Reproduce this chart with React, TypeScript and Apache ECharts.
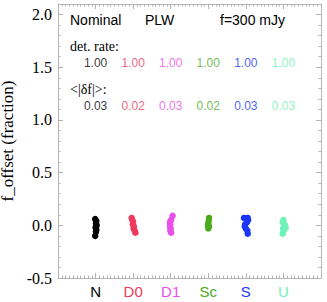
import React, { useEffect, useRef } from "react";
import * as echarts from "echarts";

const categories = ["N", "D0", "D1", "Sc", "S", "U"];
const colors = ["#000000", "#ee3b5e", "#e84fe8", "#4caa1e", "#1a35f5", "#6ff2b6"];
const detRate = [1.0, 1.0, 1.0, 1.0, 1.0, 1.0];
const meanAbsOffset = [0.03, 0.02, 0.03, 0.02, 0.03, 0.03];
const yTicks = [-0.5, 0, 0.5, 1.0, 1.5, 2.0];

const pointsN = [[0.99, 0.06], [1.02, 0.04], [1.01, 0.02], [1.03, 0.0], [1.0, -0.02], [1.02, -0.04], [1.01, -0.06], [0.99, -0.1]];
const pointsD0 = [[1.96, 0.07], [1.98, 0.05], [2.0, 0.03], [1.99, 0.01], [2.02, -0.01], [2.01, -0.03], [2.04, -0.05], [2.06, -0.07]];
const pointsD1 = [[3.05, 0.09], [3.01, 0.05], [2.98, 0.03], [2.99, 0.01], [2.98, -0.01], [3.0, -0.03], [2.99, -0.05], [3.01, -0.07]];
const pointsSc = [[4.02, 0.07], [4.01, 0.04], [4.0, 0.02], [3.99, 0.0], [4.02, -0.01], [4.0, -0.03]];
const pointsS = [[4.95, 0.07], [5.05, 0.07], [5.06, 0.05], [5.03, 0.03], [4.98, 0.01], [4.97, -0.01], [5.0, -0.03], [5.04, -0.05], [5.05, -0.08]];
const pointsU = [[6.0, 0.05], [5.98, 0.03], [6.03, 0.01], [6.06, -0.02], [5.99, -0.03], [6.01, -0.05], [5.98, -0.08]];
const allPoints = [pointsN, pointsD0, pointsD1, pointsSc, pointsS, pointsU];

const SERIF = "'Liberation Serif', 'DejaVu Serif', serif";
const SANS = "'Liberation Sans', Arial, sans-serif";
const AXIS_COLOR = "#b4b4b4";

export default function App() {
  const ref = useRef<HTMLDivElement>(null);
  useEffect(() => {
    if (!ref.current) return;
    const chart = echarts.init(ref.current, undefined, { renderer: "svg" });
    const rich: Record<string, any> = {};
    categories.forEach((c, i) => {
      rich["c" + i] = { color: colors[i], fontFamily: SANS, fontSize: 15 };
    });
    const commonX = {
      type: "value",
      min: 0,
      max: 7,
      interval: 1,
      axisLine: { show: true, onZero: false, lineStyle: { color: AXIS_COLOR, width: 1 } },
      axisTick: { show: true, inside: true, length: 5, lineStyle: { color: AXIS_COLOR } },
      minorTick: { show: true, splitNumber: 10, length: 2.5, lineStyle: { color: AXIS_COLOR } },
      splitLine: { show: false },
    };
    const commonY = {
      type: "value",
      min: -0.5,
      max: 2.1,
      interval: 0.5,
      axisLine: { show: true, onZero: false, lineStyle: { color: AXIS_COLOR, width: 1 } },
      axisTick: { show: true, inside: true, length: 5, lineStyle: { color: AXIS_COLOR } },
      minorTick: { show: true, splitNumber: 5, length: 2.5, lineStyle: { color: AXIS_COLOR } },
      splitLine: { show: false },
    };
    const textSeries = (vals: number[], y: number, digits: number) => ({
      type: "scatter",
      silent: true,
      symbolSize: 0,
      data: vals.map((v, i) => ({
        value: [i + 1, y],
        label: {
          show: true,
          position: "inside",
          formatter: v.toFixed(digits),
          color: colors[i],
          fontFamily: SANS,
          fontSize: 12,
        },
      })),
    });
    const option: any = {
      animation: false,
      grid: { left: 58, right: 6, top: 4, bottom: 24, outerBoundsMode: "none", containLabel: false },
      xAxis: [
        {
          ...commonX,
          position: "bottom",
          axisLabel: {
            show: true,
            margin: 6,
            formatter: (v: number) => {
              const i = Math.round(v) - 1;
              return i >= 0 && i < categories.length ? `{c${i}|${categories[i]}}` : "";
            },
            rich,
          },
        },
        { ...commonX, position: "top", axisLabel: { show: false } },
      ],
      yAxis: [
        {
          ...commonY,
          position: "left",
          name: "f_offset (fraction)",
          nameLocation: "middle",
          nameGap: 37,
          nameTextStyle: { fontFamily: SERIF, fontSize: 17, color: "#000" },
          axisLabel: {
            show: true,
            margin: 6,
            fontFamily: SERIF,
            fontSize: 16,
            color: "#000",
            formatter: (v: number) => {
              const t = yTicks.find((k) => Math.abs(k - v) < 1e-6);
              return t === undefined ? "" : t.toFixed(1);
            },
          },
        },
        { ...commonY, position: "right", axisLabel: { show: false } },
      ],
      graphic: [
        { type: "text", left: 70, top: 13, style: { text: "Nominal", font: `14px ${SANS}`, fill: "#000" } },
        { type: "text", left: 145, top: 13, style: { text: "PLW", font: `14px ${SANS}`, fill: "#000" } },
        { type: "text", left: 220, top: 13, style: { text: "f=300 mJy", font: `14px ${SANS}`, fill: "#000" } },
        { type: "text", left: 70, top: 39, style: { text: "det. rate:", font: `14px ${SERIF}`, fill: "#000" } },
        { type: "text", left: 70, top: 82, style: { text: "<|δf|>:", font: `14px ${SERIF}`, fill: "#000" } },
      ],
      series: [
        ...allPoints.map((pts, i) => ({
          type: "scatter",
          name: categories[i],
          data: pts,
          symbol: "circle",
          symbolSize: 6.5,
          itemStyle: { color: colors[i], opacity: 1 },
          xAxisIndex: 0,
          yAxisIndex: 0,
        })),
        textSeries(detRate, 1.54, 2),
        textSeries(meanAbsOffset, 1.13, 2),
      ],
    };
    chart.setOption(option);
    return () => chart.dispose();
  }, []);
  return (
    <div
      ref={ref}
      style={{ position: "absolute", left: 0, top: 0, width: 327, height: 302, background: "#fff" }}
    />
  );
}
